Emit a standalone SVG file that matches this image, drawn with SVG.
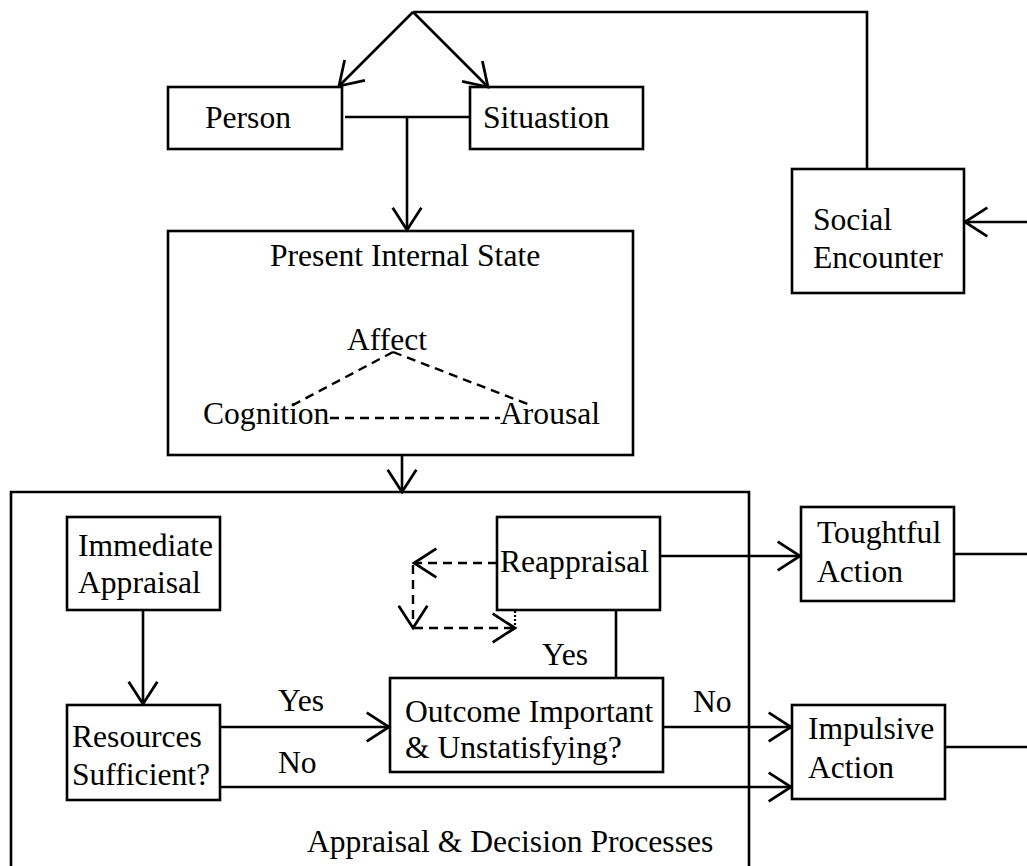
<svg xmlns="http://www.w3.org/2000/svg" width="1027" height="866" viewBox="0 0 1027 866">
  <defs>
    <style>
      .box { fill: #fff; stroke: #000; stroke-width: 2.6; }
      .ln { fill: none; stroke: #000; stroke-width: 2.6; }
      .dash { fill: none; stroke: #000; stroke-width: 2.4; stroke-dasharray: 9 6; }
      .dot { fill: none; stroke: #000; stroke-width: 2.2; stroke-dasharray: 2 2; }
      text { font-family: "Liberation Serif", "Times New Roman", serif; font-size: 31.6px; fill: #000; }
    </style>
    <marker id="arr" markerUnits="userSpaceOnUse" markerWidth="30" markerHeight="34" viewBox="-24 -16 28 32" refX="0" refY="0" orient="auto">
      <path d="M -21,-13.5 L 0,0 L -21,13.5" fill="none" stroke="#000" stroke-width="2.6"/>
    </marker>
  </defs>
  <rect width="1027" height="866" fill="#fff"/>

  <!-- outer frame of the appraisal stage, open at the bottom -->
  <g id="appraisal-frame">
    <path class="ln" d="M 11,872 L 11,492 L 749,492 L 749,872"/>
    <text x="307" y="852">Appraisal &amp; Decision Processes</text>
  </g>

  <g id="person">
    <rect class="box" x="168" y="87" width="174" height="62"/>
    <text x="205" y="128">Person</text>
  </g>
  <g id="situation">
    <rect class="box" x="470" y="87" width="173" height="62"/>
    <text x="483" y="128">Situastion</text>
  </g>

  <g id="internal-state">
    <rect class="box" x="168" y="231" width="465" height="224"/>
    <text x="270" y="266">Present Internal State</text>
    <path class="dash" d="M 393,352 L 293,405"/>
    <path class="dash" d="M 393,352 L 530,405"/>
    <path class="dash" d="M 330,418 L 500,418"/>
    <text x="347" y="350">Affect</text>
    <text x="203" y="424">Cognition</text>
    <text x="500" y="424">Arousal</text>
  </g>

  <g id="social-encounter">
    <rect class="box" x="792" y="169" width="172" height="124"/>
    <text x="813" y="230">Social</text>
    <text x="813" y="268">Encounter</text>
  </g>

  <g id="immediate-appraisal">
    <rect class="box" x="67" y="517" width="153" height="93"/>
    <text x="78" y="556">Immediate</text>
    <text x="78" y="593">Appraisal</text>
  </g>

  <g id="resources">
    <rect class="box" x="67" y="705" width="153" height="95"/>
    <text x="72" y="747">Resources</text>
    <text x="72" y="785">Sufficient?</text>
  </g>

  <g id="reappraisal">
    <rect class="box" x="497" y="517" width="163" height="93"/>
    <text x="500" y="572">Reappraisal</text>
  </g>

  <g id="outcome">
    <rect class="box" x="390" y="678" width="273" height="94"/>
    <text x="405" y="722">Outcome Important</text>
    <text x="405" y="758">&amp; Unstatisfying?</text>
  </g>

  <g id="thoughtful-action">
    <rect class="box" x="801" y="507" width="153" height="94"/>
    <text x="817" y="543">Toughtful</text>
    <text x="817" y="582">Action</text>
  </g>

  <g id="impulsive-action">
    <rect class="box" x="792" y="705" width="153" height="94"/>
    <text x="808" y="739">Impulsive</text>
    <text x="808" y="778">Action</text>
  </g>

  <g id="connectors">
    <!-- feedback from social encounter to person and situation -->
    <path class="ln" d="M 867,169 L 867,12 L 413,12"/>
    <path class="ln" d="M 413,12 L 339,86" marker-end="url(#arr)"/>
    <path class="ln" d="M 413,12 L 488,87" marker-end="url(#arr)"/>
    <!-- person + situation into internal state -->
    <path class="ln" d="M 345,117 L 470,117"/>
    <path class="ln" d="M 407,117 L 407,230" marker-end="url(#arr)"/>
    <!-- internal state into appraisal -->
    <path class="ln" d="M 402,455 L 402,492" marker-end="url(#arr)"/>
    <path class="ln" d="M 143,610 L 143,704" marker-end="url(#arr)"/>
    <path class="ln" d="M 220,727 L 389,727" marker-end="url(#arr)"/>
    <text x="278" y="711">Yes</text>
    <path class="ln" d="M 220,787 L 791,787" marker-end="url(#arr)"/>
    <text x="278" y="773">No</text>
    <path class="ln" d="M 663,727 L 791,727" marker-end="url(#arr)"/>
    <text x="693" y="712">No</text>
    <path class="ln" d="M 616,610 L 616,678"/>
    <text x="542" y="665">Yes</text>
    <path class="ln" d="M 660,556 L 800,556" marker-end="url(#arr)"/>
    <!-- reappraisal loop -->
    <path class="dash" d="M 497,563 L 414,563" marker-end="url(#arr)"/>
    <path class="dash" d="M 413,565 L 413,628" marker-end="url(#arr)"/>
    <path class="dash" d="M 414,628 L 515,628" marker-end="url(#arr)"/>
    <path class="dot" d="M 515,611 L 515,628"/>
    <!-- actions feed back into social encounter -->
    <path class="ln" d="M 954,554 L 1027,554"/>
    <path class="ln" d="M 945,747 L 1027,747"/>
    <path class="ln" d="M 1027,222 L 965,222" marker-end="url(#arr)"/>
  </g>
</svg>
